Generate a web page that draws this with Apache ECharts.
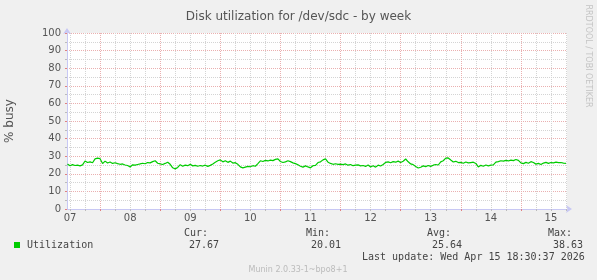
<!DOCTYPE html>
<html><head><meta charset="utf-8">
<script src="https://cdn.jsdelivr.net/npm/echarts@6/dist/echarts.min.js"></script>
<style>html,body{margin:0;padding:0;background:#f0f0f0}#c{width:597px;height:280px}</style>
</head><body><div id="c"></div>
<script>
const titleText = 'Disk utilization for /dev/sdc - by week';
const yAxisName = '% busy';
const seriesName = 'Utilization';
// hours counted from Apr 07 00:00
const axisMinHour = 10.8;
const axisMaxHour = 210.4;
const dayLabels = ['07','08','09','10','11','12','13','14','15'];
const dayNoonHours = [12,36,60,84,108,132,156,180,204];
const midnightHours = [24,48,72,96,120,144,168,192];
const sixHourHours = [12,18,30,36,42,54,60,66,78,84,90,102,108,114,126,132,138,150,156,162,174,180,186,198,204,210];
const startHour = 11; // first sample: Apr 07 11:00, hourly samples
const utilization = [
  // Apr 07 11..23
  25.5,24.6,25.2,24.7,24.9,24.5,25.1,27.3,26.4,26.8,26.3,28.5,28.9,
  // Apr 08
  28.6,25.8,27.2,26.1,26.7,25.9,26.3,25.8,25.4,25.6,25.0,24.7,23.9,25.1,24.9,25.3,25.6,26.0,25.7,26.4,26.2,26.9,27.4,26.0,
  // Apr 09
  25.6,25.3,25.9,26.6,25.4,23.4,22.8,23.6,25.2,24.3,24.9,24.6,25.4,24.5,24.8,24.3,24.7,24.4,24.9,24.2,24.8,25.6,26.6,27.4,
  // Apr 10
  27.9,26.8,27.4,26.5,27.2,26.1,26.3,25.4,23.9,23.4,23.8,24.2,24.0,24.6,24.3,25.8,27.4,27.0,27.6,27.3,27.8,27.5,28.2,28.5,
  // Apr 11
  27.0,26.4,26.8,27.4,26.9,26.2,25.8,25.1,24.3,23.8,24.5,23.9,23.4,24.6,24.8,26.4,26.8,27.9,28.5,26.6,25.9,25.4,25.7,25.4,
  // Apr 12
  25.5,25.2,25.6,24.9,25.3,24.6,24.9,25.1,24.5,24.7,24.2,25.0,23.9,24.6,23.8,24.9,24.4,25.3,26.5,26.8,26.3,26.9,26.6,27.2,
  // Apr 13
  26.4,27.1,28.4,26.8,25.6,25.2,24.1,23.3,23.7,24.5,24.1,24.7,24.2,24.9,25.3,25.0,26.8,27.4,28.9,29.0,27.8,26.7,27.1,26.4,
  // Apr 14
  26.5,26.0,26.7,26.2,26.4,26.6,25.9,23.9,24.8,24.3,25.0,24.5,24.9,25.1,26.6,26.9,27.4,27.2,27.6,27.3,27.8,27.5,28.1,27.6,
  // Apr 15 00..18
  26.2,25.8,26.5,26.0,26.9,26.4,25.5,25.9,25.3,26.1,26.5,25.9,26.4,26.2,26.6,26.3,26.4,26.1,25.9
];
const statLabels = ['Cur:','Min:','Avg:','Max:'];
const statValues = ['27.67','20.01','25.64','38.63'];
const lastUpdate = 'Last update: Wed Apr 15 18:30:37 2026';
const versionText = 'Munin 2.0.33-1~bpo8+1';
const sideText = 'RRDTOOL / TOBI OETIKER';

const RED = '#eab0b0', GRAY = '#d4d4d4', AXIS = '#c8c8f4';
const MONO = 'DejaVu Sans Mono', SANS = 'DejaVu Sans';
const G = {left:67, right:30, top:33, bottom:71};
const W = 597, H = 280;
const chart = echarts.init(document.getElementById('c'), null, {renderer:'canvas'});

const statX = [184, 306, 427, 548];
const graphics = [
  {type:'rect', z:-10, silent:true, shape:{x:G.left, y:G.top, width:W-G.left-G.right, height:H-G.top-G.bottom}, style:{fill:'#ffffff'}},
  {type:'text', x:10, y:121, rotation:Math.PI/2, style:{text:yAxisName, font:'12px '+SANS, fill:'#555', textAlign:'center', textVerticalAlign:'middle'}},
  {type:'text', x:588, y:56, rotation:-Math.PI/2, style:{text:sideText, font:'8px '+SANS, fill:'#c4c4c4', textAlign:'center', textVerticalAlign:'middle'}},
  {type:'text', x:362, y:257.5, style:{text:lastUpdate, font:'10px '+MONO, fill:'#444', textVerticalAlign:'middle'}},
  {type:'text', x:298, y:269.5, style:{text:versionText, font:'8px '+SANS, fill:'#bbb', textAlign:'center', textVerticalAlign:'middle'}}
];
statLabels.forEach((s,i)=>{
  graphics.push({type:'text', x:statX[i], y:233.5, style:{text:s, font:'10px '+MONO, fill:'#444', textVerticalAlign:'middle'}});
  graphics.push({type:'text', x:statX[i]+35, y:245.5, style:{text:statValues[i], font:'10px '+MONO, fill:'#444', textAlign:'right', textVerticalAlign:'middle'}});
});

const baseX = {type:'value', min:axisMinHour, max:axisMaxHour, gridIndex:0, position:'bottom', offset:0};
chart.setOption({
  animation:false,
  backgroundColor:'#f0f0f0',
  title:{text:titleText, left:'center', top:6, textStyle:{fontFamily:SANS, fontSize:12, fontWeight:'normal', color:'#555'}},
  legend:{data:[seriesName], left:9, top:235, icon:'rect', itemWidth:6, itemHeight:6, itemGap:0,
    textStyle:{fontFamily:MONO, fontSize:10, color:'#444', padding:[0,0,0,2]}},
  grid:{left:G.left, right:G.right, top:G.top, bottom:G.bottom, show:true, backgroundColor:'#fff', borderWidth:0},
  xAxis:[
    Object.assign({}, baseX, {axisLine:{show:false}, axisLabel:{show:false},
      axisTick:{show:true, customValues:sixHourHours, length:2, lineStyle:{color:'#bbb'}},
      splitLine:{show:true, lineStyle:{color:GRAY, type:[1,1], width:1}}}),
    Object.assign({}, baseX, {axisLine:{show:false}, axisLabel:{show:false},
      axisTick:{show:true, customValues:midnightHours, length:2, lineStyle:{color:'#e08080'}},
      splitLine:{show:true, lineStyle:{color:RED, type:[1,1], width:1}}}),
    Object.assign({}, baseX, {
      axisLine:{show:true, lineStyle:{color:AXIS}, symbol:['none','arrow'], symbolSize:[6,6], symbolOffset:[0,5]},
      axisTick:{show:false, customValues:dayNoonHours},
      splitLine:{show:false},
      axisLabel:{show:true, customValues:dayNoonHours, margin:4, color:'#555', fontFamily:SANS, fontSize:10,
        formatter:(v)=>dayLabels[dayNoonHours.indexOf(Math.round(v))]}})
  ],
  yAxis:{type:'value', min:0, max:100, interval:10,
    axisLine:{show:true, lineStyle:{color:AXIS}, symbol:['none','arrow'], symbolSize:[6,6], symbolOffset:[0,5]},
    axisTick:{show:true, length:2, lineStyle:{color:'#e08080'}},
    minorTick:{show:true, splitNumber:2, length:2, lineStyle:{color:'#bbb'}},
    minorSplitLine:{show:true, lineStyle:{color:GRAY, type:[1,1]}},
    splitLine:{show:true, lineStyle:{color:RED, type:[1,1]}},
    axisLabel:{color:'#555', fontFamily:SANS, fontSize:10, margin:6}},
  series:[{name:seriesName, type:'line', xAxisIndex:2, showSymbol:false, symbol:'none',
    lineStyle:{color:'#00cc00', width:1.2}, itemStyle:{color:'#00cc00'},
    data:utilization.map((v,i)=>[startHour+i, v])}],
  graphic:graphics
});
</script></body></html>
